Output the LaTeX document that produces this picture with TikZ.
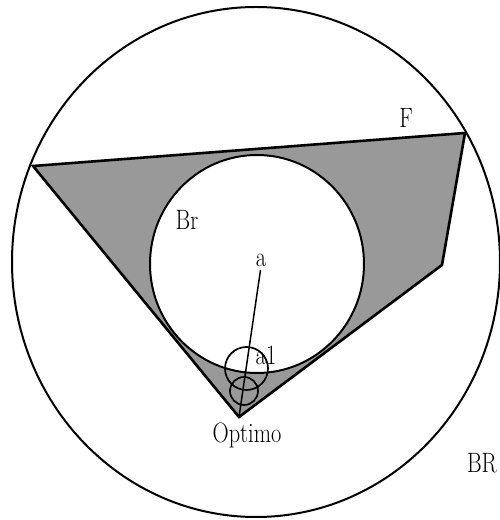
\documentclass[tikz,border=0pt]{standalone}
\usepackage{graphicx}
\usetikzlibrary{positioning}

\newcommand{\slim}[1]{\scalebox{0.8}[1]{#1}}

\begin{document}
\begin{tikzpicture}[
    x=1pt, y=1pt,
    bound/.style={draw, line width=2pt},
    region/.style={draw, line width=2.6pt, line join=miter},
    ball/.style={draw, line width=2pt},
    ray/.style={draw, line width=1.5pt},
    lbl/.style={inner sep=0pt, anchor=base, font=\fontsize{28}{28}\selectfont},
  ]
    \useasboundingbox (0,0) rectangle (500,520);

    % --- corners of the feasible set F ---
    \coordinate (p1) at (33,354);
    \coordinate (p2) at (465,387);
    \coordinate (p3) at (442,255);
    \coordinate (opt) at (239,103);
    \coordinate (a) at (260.5,250);

    % shaded part: F without the ball Br
    \fill[black!40, even odd rule] (p1) -- (p2) -- (p3) -- (opt) -- cycle
      (257,256) ellipse [x radius=107, y radius=109];

    % --- outer ball BR and inner ball Br ---
    \draw[bound] (256,258) ellipse [x radius=244, y radius=255];
    \draw[ball] (257,256) ellipse [x radius=107, y radius=109];
    \draw[region] (p1) -- (p2) -- (p3) -- (opt) -- cycle;

    % small balls near the optimum
    \draw[ball, line width=1.7pt] (246.5,151.5) circle [radius=21.5];
    \draw[ball, line width=1.7pt] (244,129) circle [radius=14];

    % radius from the centre a to the optimum
    \draw[ray] (a) -- (opt);

    % --- labels ---
    \node[lbl] (la) at (261,253) {\slim{a}};
    \node[lbl] (la1) at (266,155) {\slim{a1}};
    \node[lbl] (lopt) at (247,77) {\slim{Optimo}};
    \node[lbl] (lBR) at (482,47) {\slim{BR}};
    \node[lbl] (lF) at (406,392) {\slim{F}};
    \node[lbl] (lBr) at (187,290) {\slim{Br}};
\end{tikzpicture}
\end{document}
